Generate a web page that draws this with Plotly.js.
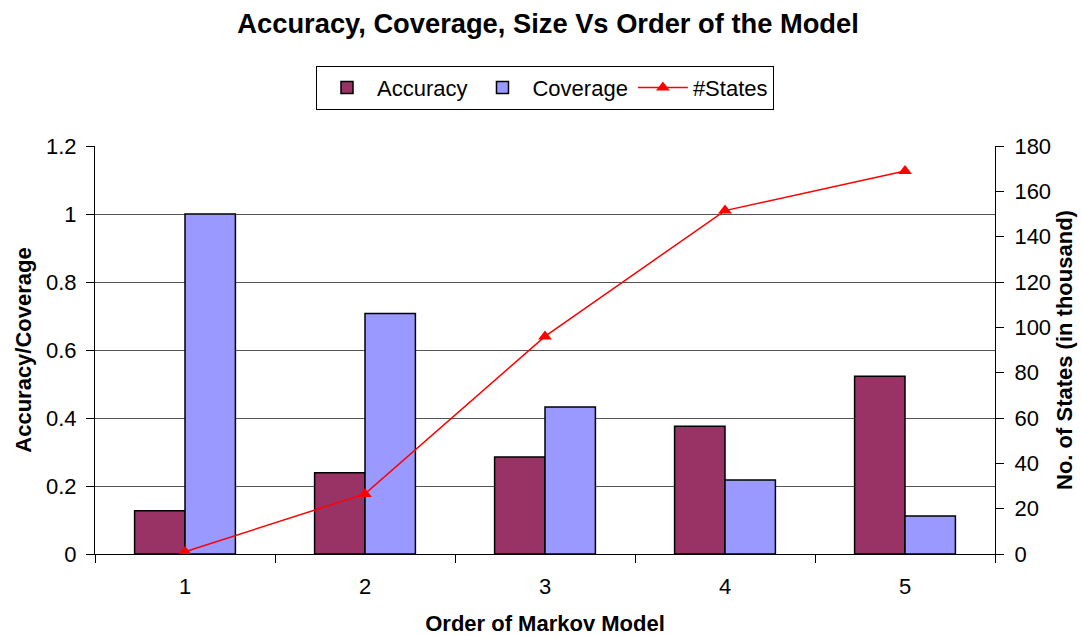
<!DOCTYPE html>
<html>
<head>
<meta charset="utf-8">
<script src="https://cdn.plot.ly/plotly-3.0.1.min.js"></script>
<style>html,body{margin:0;padding:0;background:#fff;}#chart{width:1081px;height:636px;}</style>
</head>
<body>
<div id="chart"></div>
<script>
const categories = ['1', '2', '3', '4', '5'];
const accuracy = [0.127, 0.239, 0.285, 0.376, 0.523];
const coverage = [1.0, 0.707, 0.432, 0.218, 0.112];
const states = [1, 26.5, 96, 151.5, 169];

const font = 'Liberation Sans, Arial, sans-serif';

const traces = [
  {
    type: 'bar', name: 'Accuracy', x: categories, y: accuracy,
    marker: {color: '#993366', line: {color: '#000', width: 1.5}},
    yaxis: 'y'
  },
  {
    type: 'bar', name: 'Coverage', x: categories, y: coverage,
    marker: {color: '#9999FF', line: {color: '#000', width: 1.5}},
    yaxis: 'y'
  },
  {
    type: 'scatter', mode: 'lines+markers', name: '#States', x: categories, y: states,
    line: {color: '#FF0000', width: 1.5},
    marker: {symbol: 'triangle-up', size: 12, color: '#FF0000'},
    yaxis: 'y2', cliponaxis: false
  }
];

const layout = {
  width: 1081, height: 636,
  paper_bgcolor: '#fff', plot_bgcolor: '#fff',
  margin: {l: 95, r: 86, t: 146, b: 82},
  font: {family: font, color: '#000', size: 22},
  title: {
    text: '<b>Accuracy, Coverage, Size Vs Order of the Model</b>',
    font: {family: font, size: 27.3, color: '#000'},
    x: 0.507, xanchor: 'center', xref: 'container',
    y: 1 - 23/636, yanchor: 'middle', yref: 'container'
  },
  barmode: 'group', bargap: 0.44, bargroupgap: 0,
  showlegend: true,
  legend: {
    orientation: 'h', x: 0.5, xanchor: 'center', y: 1.143, yanchor: 'middle',
    bordercolor: '#000', borderwidth: 1, bgcolor: '#fff',
    font: {family: font, size: 22, color: '#000'},
    traceorder: 'normal', itemwidth: 50
  },
  xaxis: {
    type: 'category', tickson: 'boundaries', ticks: 'outside', ticklen: 8,
    tickcolor: '#000', showline: true, linecolor: '#000', linewidth: 1,
    showgrid: false, zeroline: false, ticklabelstandoff: 13,
    tickfont: {family: font, size: 22},
    title: {text: '<b>Order of Markov Model</b>', font: {family: font, size: 22}, standoff: 20}
  },
  yaxis: {
    range: [0, 1.2], dtick: 0.2, ticks: 'outside', ticklen: 8, tickcolor: '#000',
    showline: true, linecolor: '#000', linewidth: 1, ticklabelstandoff: 5,
    showgrid: true, gridcolor: '#555', gridwidth: 1, zeroline: false,
    tickfont: {family: font, size: 22},
    title: {text: '<b>Accuracy/Coverage</b>', font: {family: font, size: 22}, standoff: 8}
  },
  yaxis2: {
    range: [0, 180], dtick: 20, overlaying: 'y', side: 'right',
    ticks: 'outside', ticklen: 8, tickcolor: '#000', ticklabelstandoff: 6,
    showline: true, linecolor: '#000', linewidth: 1,
    showgrid: false, zeroline: false,
    tickfont: {family: font, size: 22},
    title: {text: '<b>No. of States (in thousand)</b>', font: {family: font, size: 22}, standoff: 6}
  }
};

Plotly.newPlot('chart', traces, layout, {displayModeBar: false, responsive: false});
</script>
</body>
</html>
